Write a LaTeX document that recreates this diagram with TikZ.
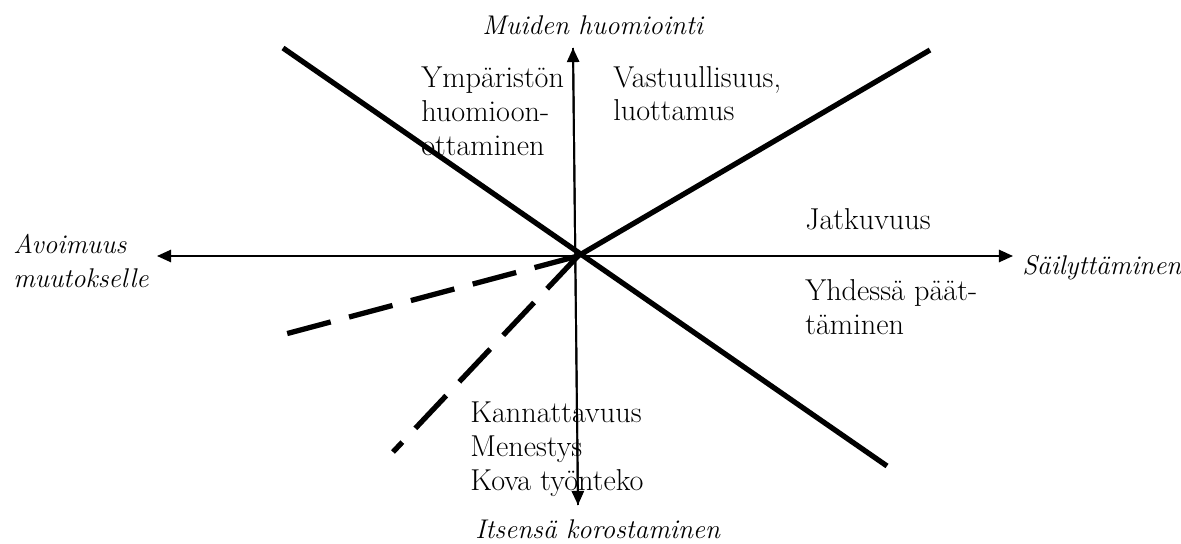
\documentclass[tikz,border=0pt]{standalone}
\usetikzlibrary{arrows.meta}
\begin{document}
\begin{tikzpicture}[x=0.02cm,y=-0.02cm,
  axis/.style={line width=1.1pt,-{Triangle[length=8pt,width=7pt]}},
  heavy/.style={line width=3pt},
  dashline/.style={line width=3pt,dash pattern=on 0.9cm off 0.38cm},
  lbl/.style={anchor=base west,inner sep=0pt,font=\fontsize{17.2}{19.35}\selectfont,align=left},
  ilbl/.style={lbl,font=\fontsize{15.4}{19.35}\selectfont\itshape}]
\useasboundingbox (0,0) rectangle (1181,544);
\coordinate (c) at (578,256);
\coordinate (le) at (157,256);
\coordinate (re) at (1013,256);
\coordinate (te) at (573,48);
\coordinate (be) at (578,505);
\coordinate (l1a) at (283,48);
\coordinate (l1b) at (887,466);
\coordinate (l2a) at (930,50);
\coordinate (d1) at (278,336);
\coordinate (d2) at (393,452);
\draw[axis] (c) -- (le);
\draw[axis] (c) -- (re);
\draw[axis] (be) -- (te);
\draw[axis] (te) -- (be);
\draw[heavy] (l1a) -- (l1b);
\draw[heavy] (l2a) -- (c);
\draw[dashline] (c) -- (d1);
\draw[dashline] (c) -- (d2);
\node[ilbl] (top) at (482,35) {Muiden huomiointi};
\node[lbl] (ymp) at (421,155) {Ympäristön\\huomioon-\\ottaminen};
\node[lbl] (vas) at (613,121) {Vastuullisuus,\\luottamus};
\node[ilbl] (avo) at (13,287) {Avoimuus\\muutokselle};
\node[lbl] (jat) at (805,230) {Jatkuvuus};
\node[ilbl] (sai) at (1022,275) {Säilyttäminen};
\node[lbl] (yhd) at (805,334) {Yhdessä päät-\\täminen};
\node[lbl] (kan) at (470,490) {Kannattavuus\\Menestys\\Kova työnteko};
\node[ilbl] (its) at (475,538) {Itsensä korostaminen};
\end{tikzpicture}
\end{document}
